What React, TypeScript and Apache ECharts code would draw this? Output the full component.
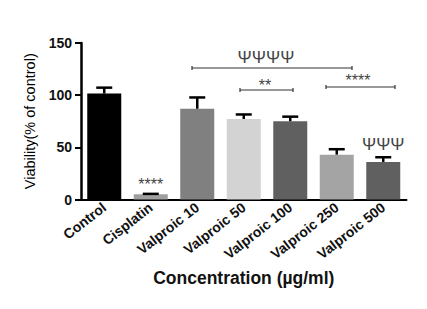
import React, { useEffect, useRef } from "react";
import * as echarts from "echarts";

const categories = ["Control", "Cisplatin", "Valproic 10", "Valproic 50", "Valproic 100", "Valproic 250", "Valproic 500"];
const viability = [101.5, 5, 87, 77.2, 75, 43, 36];
const errors = [5.7, 0.4, 10.8, 4.3, 4.4, 5.2, 4.5];
const barColors = ["#000000", "#a0a0a0", "#808080", "#d3d3d3", "#606060", "#a4a4a4", "#606060"];
const barMarks = ["", "****", "", "", "", "", "ΨΨΨ"];
const yTicks = [0, 50, 100, 150];

const FONT = "'Liberation Sans', Arial, sans-serif";
const MARK = "#444444";

export default function App() {
  const ref = useRef<HTMLDivElement>(null);
  useEffect(() => {
    const chart = echarts.init(ref.current!, null, { renderer: "svg" });
    const option: any = {
      animation: false,
      backgroundColor: "#ffffff",
      grid: { left: 81, right: 20.5, top: 43, bottom: 109.5, containLabel: false },
      xAxis: {
        type: "category",
        data: categories,
        name: "Concentration (µg/ml)",
        nameLocation: "middle",
        nameGap: 69,
        nameMoveOverlap: false,
        nameTextStyle: { fontFamily: FONT, fontWeight: "bold", fontSize: 17.5, color: "#111" },
        axisLine: { lineStyle: { color: "#000", width: 2 } },
        axisTick: { alignWithLabel: true, length: 6, lineStyle: { color: "#000", width: 2 } },
        axisLabel: {
          rotate: 38,
          interval: 0,
          margin: 6,
          fontFamily: FONT,
          fontWeight: "bold",
          fontSize: 14,
          color: "#111",
        },
      },
      yAxis: {
        type: "value",
        min: 0,
        max: 150,
        interval: 50,
        name: "Viability(% of control)",
        nameLocation: "middle",
        nameGap: 44,
        nameMoveOverlap: false,
        nameTextStyle: { fontFamily: FONT, fontSize: 14.5, color: "#000" },
        axisLine: { show: true, lineStyle: { color: "#000", width: 2.5 } },
        axisTick: { show: true, length: 6, lineStyle: { color: "#000", width: 2 } },
        axisLabel: {
          fontFamily: FONT,
          fontWeight: "bold",
          fontSize: 14,
          color: "#111",
          margin: 9,
          customValues: yTicks,
        },
        splitLine: { show: false },
      },
      series: [
        {
          type: "bar",
          barWidth: 34,
          data: viability.map((v, i) => ({
            value: v,
            itemStyle: { color: barColors[i] },
            label: barMarks[i]
              ? {
                  show: true,
                  position: "top",
                  distance: barMarks[i] === "ΨΨΨ" ? 9 : 2,
                  formatter: barMarks[i],
                  fontFamily: FONT,
                  fontSize: barMarks[i] === "ΨΨΨ" ? 17 : 16,
                  color: MARK,
                }
              : { show: false },
          })),
        },
        {
          type: "custom",
          z: 5,
          data: viability.map((v, i) => [i, v, errors[i]]),
          renderItem: (params: any, api: any) => {
            const x = api.value(0);
            const y = api.value(1);
            const e = api.value(2);
            const p0 = api.coord([x, y]);
            const p1 = api.coord([x, y + e]);
            const style = { stroke: "#000", lineWidth: 2.5 };
            return {
              type: "group",
              children: [
                { type: "line", shape: { x1: p0[0], y1: p0[1], x2: p1[0], y2: p1[1] }, style },
                { type: "line", shape: { x1: p1[0] - 8, y1: p1[1], x2: p1[0] + 8, y2: p1[1] }, style },
              ],
            };
          },
        },
      ],
      graphic: [
        { type: "line", shape: { x1: 192, y1: 68, x2: 352, y2: 68 }, style: { stroke: "#333", lineWidth: 1.2 } },
        { type: "line", shape: { x1: 192, y1: 66, x2: 192, y2: 70 }, style: { stroke: "#333", lineWidth: 1.2 } },
        { type: "line", shape: { x1: 352, y1: 66, x2: 352, y2: 70 }, style: { stroke: "#333", lineWidth: 1.2 } },
        { type: "text", x: 266, y: 57, style: { text: "ΨΨΨΨ", fontFamily: FONT, fontSize: 17, fill: MARK, align: "center", verticalAlign: "middle" } },
        { type: "line", shape: { x1: 240, y1: 90, x2: 293, y2: 90 }, style: { stroke: "#333", lineWidth: 1.2 } },
        { type: "line", shape: { x1: 240, y1: 88, x2: 240, y2: 92 }, style: { stroke: "#333", lineWidth: 1.2 } },
        { type: "line", shape: { x1: 293, y1: 88, x2: 293, y2: 92 }, style: { stroke: "#333", lineWidth: 1.2 } },
        { type: "text", x: 265, y: 85.5, style: { text: "**", fontFamily: FONT, fontSize: 16, fill: MARK, align: "center", verticalAlign: "middle" } },
        { type: "line", shape: { x1: 326, y1: 87, x2: 395, y2: 87 }, style: { stroke: "#333", lineWidth: 1.2 } },
        { type: "line", shape: { x1: 326, y1: 85, x2: 326, y2: 89 }, style: { stroke: "#333", lineWidth: 1.2 } },
        { type: "line", shape: { x1: 395, y1: 85, x2: 395, y2: 89 }, style: { stroke: "#333", lineWidth: 1.2 } },
        { type: "text", x: 358, y: 80.5, style: { text: "****", fontFamily: FONT, fontSize: 16, fill: MARK, align: "center", verticalAlign: "middle" } },
      ],
    };
    chart.setOption(option);
    return () => chart.dispose();
  }, []);
  return <div ref={ref} style={{ width: 427, height: 309, margin: -8 }} />;
}
